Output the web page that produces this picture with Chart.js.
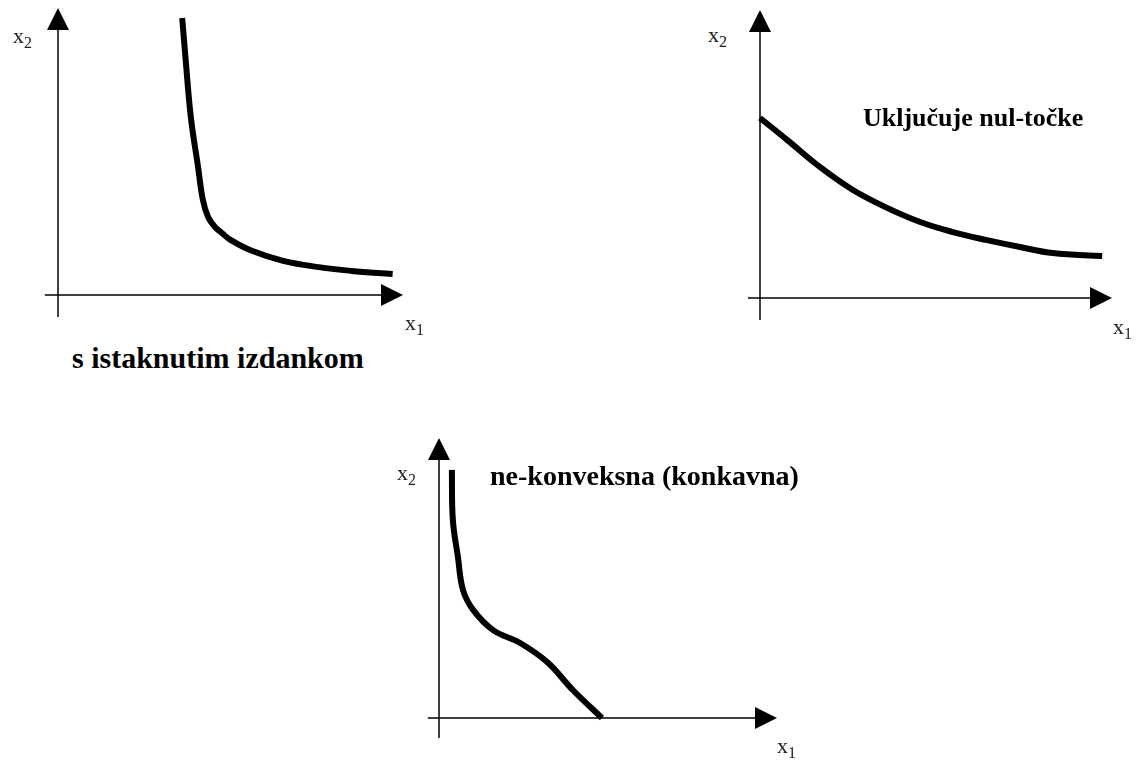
<!DOCTYPE html>
<html>
<head>
<meta charset="utf-8">
<title>Izokvante</title>
<script src="https://cdn.jsdelivr.net/npm/chart.js@4/dist/chart.umd.min.js"></script>
<style>
  html, body { margin: 0; padding: 0; background: #fff; }
  #page { position: relative; width: 1137px; height: 760px; overflow: hidden; }
  canvas { position: absolute; }
  .caption { position: absolute; font-family: "Liberation Serif", "Times New Roman", serif; font-weight: bold; line-height: 1; color: #000; white-space: nowrap; }
  .axlbl { position: absolute; font-family: "Liberation Serif", "Times New Roman", serif; font-size: 22px; line-height: 1; color: #222; white-space: nowrap; }
  .axlbl sub { font-size: 16px; vertical-align: -5px; line-height: 1; }
</style>
</head>
<body>
<div id="page">
  <canvas id="chartIzdanak" width="390" height="330" style="left:30px;top:0px"></canvas>
  <canvas id="chartNul" width="400" height="330" style="left:730px;top:0px"></canvas>
  <canvas id="chartKonkav" width="380" height="320" style="left:410px;top:425px"></canvas>

  <div class="axlbl" style="left:13px;top:25px">x<sub>2</sub></div>
  <div class="axlbl" style="left:405px;top:312px">x<sub>1</sub></div>
  <div class="caption" id="capIzdanak" style="left:72px;top:343px;font-size:30px"></div>

  <div class="axlbl" style="left:708px;top:24px">x<sub>2</sub></div>
  <div class="axlbl" style="left:1113px;top:316px">x<sub>1</sub></div>
  <div class="caption" id="capNul" style="left:863px;top:105px;font-size:26px"></div>

  <div class="axlbl" style="left:397px;top:462px">x<sub>2</sub></div>
  <div class="axlbl" style="left:777px;top:735px">x<sub>1</sub></div>
  <div class="caption" id="capKonkav" style="left:490px;top:462px;font-size:28px"></div>
</div>

<script>
// Curve values, in axis units (0 at the origin, 10 at the arrow tip)
const izdanakX = [3.6, 3.7, 3.85, 4.06, 4.2, 4.35, 4.55, 4.75, 5.0, 5.6, 6.5, 7.5, 8.5, 9.7];
const izdanakY = [9.65, 8.2, 6.2, 4.46, 3.31, 2.72, 2.37, 2.16, 1.92, 1.55, 1.2, 0.98, 0.84, 0.73];

const nulX = [0, 0.77, 1.7, 2.64, 3.61, 4.55, 5.48, 6.45, 7.39, 8.32, 9.72];
const nulY = [6.25, 5.49, 4.55, 3.75, 3.13, 2.64, 2.29, 2.01, 1.77, 1.56, 1.46];

const konkavX = [0.38, 0.41, 0.56, 0.71, 1.01, 1.6, 2.4, 3.2, 3.96, 4.82];
const konkavY = [8.86, 7.07, 5.75, 4.57, 3.86, 3.14, 2.68, 2.0, 1.0, 0.0];

const captionIzdanak = 's istaknutim izdankom';
const captionNul = 'Uključuje nul-točke';
const captionKonkav = 'ne-konveksna (konkavna)';

const AXIS_END = 10;

// where each canvas sits and where its origin / arrow tips land, in px
const layouts = {
    chartIzdanak: { left: 30, top: 0, width: 390, height: 330, originX: 58, originY: 295, tipX: 403, tipY: 8, xFrom: -0.38, yFrom: -0.77 },
    chartNul: { left: 730, top: 0, width: 400, height: 330, originX: 760, originY: 298, tipX: 1112, tipY: 10, xFrom: -0.34, yFrom: -0.76 },
    chartKonkav: { left: 410, top: 425, width: 380, height: 320, originX: 439, originY: 718, tipX: 777, tipY: 438, xFrom: -0.33, yFrom: -0.71 }
};

// draws the two axes with filled arrowheads through the origin
const axisArrows = {
    id: 'axisArrows',
    beforeDatasetsDraw(chart, args, opts) {
        const ctx = chart.ctx;
        const xs = chart.scales.x, ys = chart.scales.y;
        const ox = xs.getPixelForValue(0), oy = ys.getPixelForValue(0);
        const xa = xs.getPixelForValue(opts.xFrom), xb = xs.getPixelForValue(AXIS_END);
        const ya = ys.getPixelForValue(opts.yFrom), yb = ys.getPixelForValue(AXIS_END);
        const len = 22, half = 11;

        ctx.save();
        ctx.strokeStyle = '#000';
        ctx.lineWidth = 1.5;
        ctx.beginPath();
        ctx.moveTo(xa, oy);
        ctx.lineTo(xb - len + 2, oy);
        ctx.moveTo(ox, ya);
        ctx.lineTo(ox, yb + len - 2);
        ctx.stroke();

        ctx.fillStyle = '#000';
        ctx.beginPath();
        ctx.moveTo(xb, oy);
        ctx.lineTo(xb - len, oy - half);
        ctx.lineTo(xb - len, oy + half);
        ctx.closePath();
        ctx.fill();

        ctx.beginPath();
        ctx.moveTo(ox, yb);
        ctx.lineTo(ox - half, yb + len);
        ctx.lineTo(ox + half, yb + len);
        ctx.closePath();
        ctx.fill();
        ctx.restore();
    }
};

function makeCurveChart(id, xs, ys) {
    const l = layouts[id];
    const ux = (l.tipX - l.originX) / AXIS_END;
    const uy = (l.originY - l.tipY) / AXIS_END;

    return new Chart(document.getElementById(id), {
        type: 'line',
        data: {
            datasets: [{
                data: xs.map((x, i) => ({ x: x, y: ys[i] })),
                borderColor: '#000',
                borderWidth: 6,
                borderCapStyle: 'butt',
                borderJoinStyle: 'round',
                pointRadius: 0,
                tension: 0.4,
                fill: false,
                clip: false
            }]
        },
        options: {
            responsive: false,
            animation: false,
            events: [],
            layout: { padding: 0 },
            plugins: {
                legend: { display: false },
                tooltip: { enabled: false },
                axisArrows: { xFrom: l.xFrom, yFrom: l.yFrom }
            },
            scales: {
                x: {
                    type: 'linear',
                    display: false,
                    min: (l.left - l.originX) / ux,
                    max: (l.left + l.width - l.originX) / ux
                },
                y: {
                    type: 'linear',
                    display: false,
                    min: (l.originY - (l.top + l.height)) / uy,
                    max: (l.originY - l.top) / uy
                }
            }
        },
        plugins: [axisArrows]
    });
}

makeCurveChart('chartIzdanak', izdanakX, izdanakY);
makeCurveChart('chartNul', nulX, nulY);
makeCurveChart('chartKonkav', konkavX, konkavY);

document.getElementById('capIzdanak').textContent = captionIzdanak;
document.getElementById('capNul').textContent = captionNul;
document.getElementById('capKonkav').textContent = captionKonkav;
</script>
</body>
</html>
